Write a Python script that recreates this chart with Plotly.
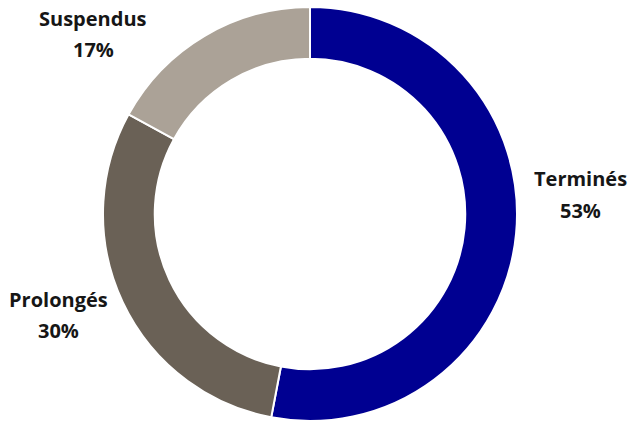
import plotly.graph_objects as go

labels = ['Terminés', 'Prolongés', 'Suspendus']
values = [53, 30, 17]
colors = ['#000091', '#6a6156', '#aba297']

W, H = 637, 427

def px(x):
    return x / W

def py(y):
    return 1 - y / H

# centre of the label lines in pixels: (x, name y, percent y)
label_pos = [(580, 178, 210), (58, 299, 330), (93, 18, 49)]

fig = go.Figure()

fig.add_trace(go.Pie(
    labels=labels,
    values=values,
    hole=0.75,
    sort=False,
    direction='clockwise',
    rotation=0,
    marker=dict(colors=colors, line=dict(color='white', width=2)),
    textinfo='none',
    hoverinfo='label+percent',
    domain=dict(x=[px(103), px(517)], y=[py(421), py(7)]),
    showlegend=False,
))

for lab, val, (x, y1, y2) in zip(labels, values, label_pos):
    for txt, y in [(lab, y1), ('%d%%' % val, y2)]:
        fig.add_annotation(
            x=px(x), y=py(y), xref='paper', yref='paper',
            xanchor='center', yanchor='middle',
            text='<b>%s</b>' % txt,
            showarrow=False,
            font=dict(family='Open Sans', size=20, color='#161616'),
        )

fig.update_layout(
    width=W, height=H,
    margin=dict(l=0, r=0, t=0, b=0),
    paper_bgcolor='white',
    plot_bgcolor='white',
)

# drop the default page margin so the figure fills the window
fig.write_html("out.html", config={'displayModeBar': False},
               post_script="document.body.style.margin='0';")
